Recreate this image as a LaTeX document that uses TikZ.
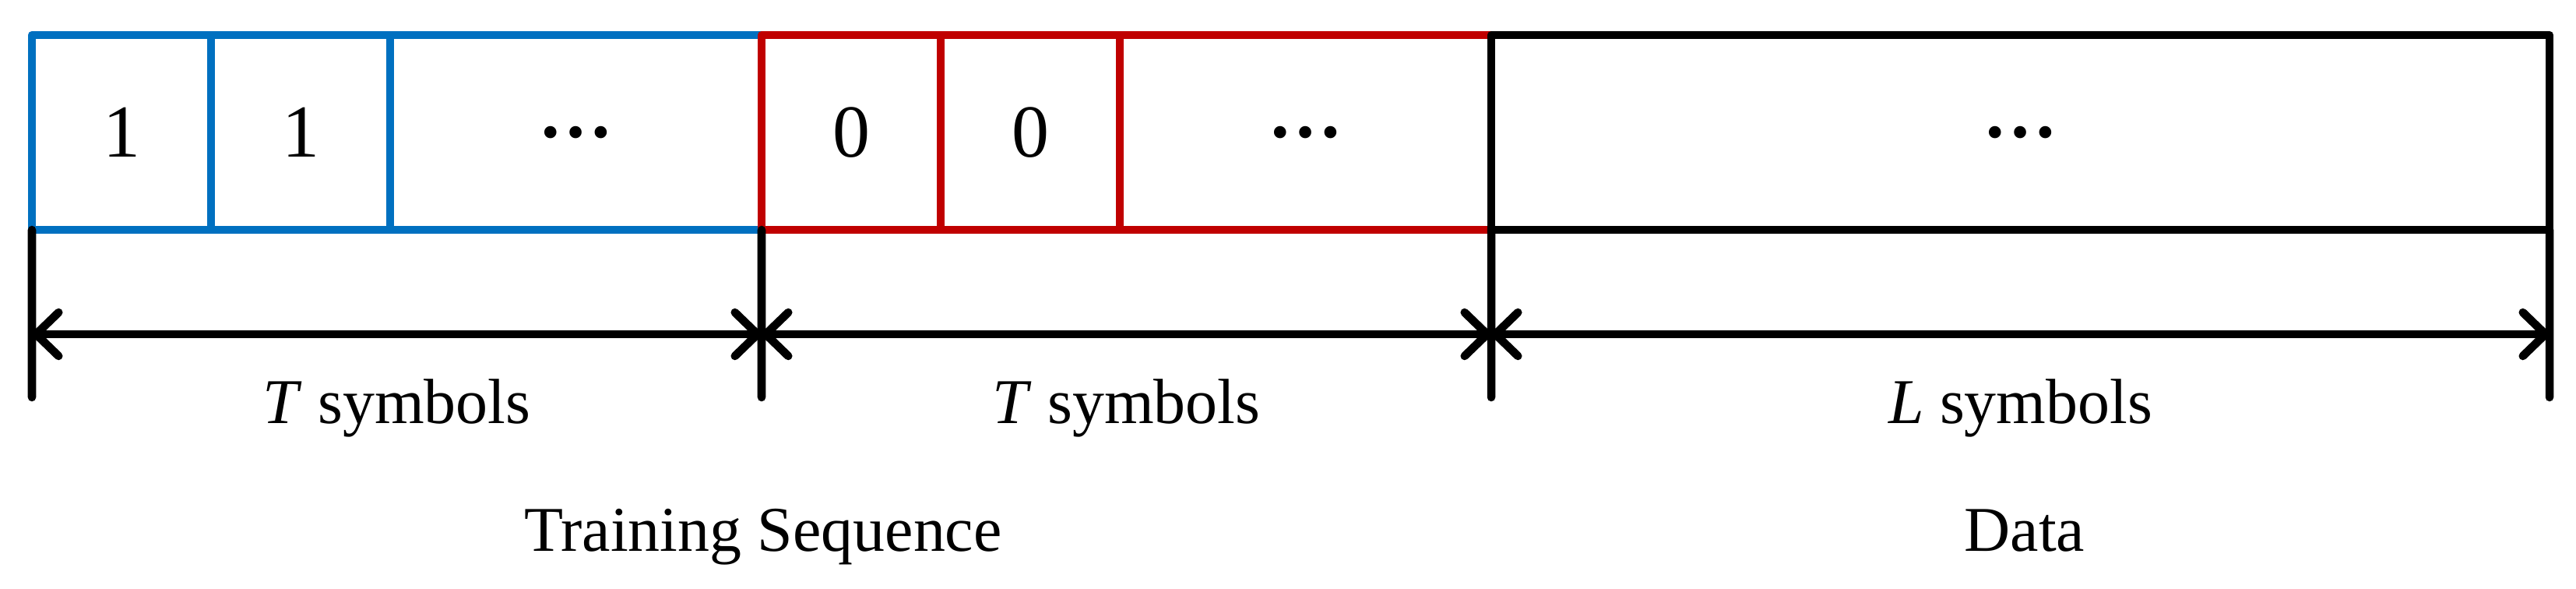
\documentclass[tikz,border=0pt]{standalone}
\usepackage{fontspec}
\setmainfont{Liberation Serif}
\usetikzlibrary{arrows.meta}
\definecolor{tsblue}{RGB}{0,112,192}
\definecolor{tsred}{RGB}{192,0,0}

\begin{document}
\begin{tikzpicture}[line width=3pt, line cap=round, line join=round,
  cell/.style={draw, rectangle, inner sep=0pt, outer sep=0pt, minimum height=2.5cm, text=black, font=\fontsize{27.3}{30}\selectfont},
  dim/.style={{Straight Barb[length=0.29cm,width=0.56cm,round]}-{Straight Barb[length=0.29cm,width=0.56cm,round]}},
  lbl/.style={anchor=base, font=\fontsize{23.3}{28}\selectfont}]
\useasboundingbox (0,0) rectangle (33.08,7.55);
\node[cell, draw=tsblue, minimum width=2.3cm] (B1) at (1.56,5.85) {1};
\node[cell, draw=tsblue, minimum width=2.3cm] (B2) at (3.86,5.85) {1};
\node[cell, draw=tsblue, minimum width=4.77cm] (B3) at (7.395,5.85) {\textbf{…}};
\node[cell, draw=tsred, minimum width=2.3cm] (R1) at (10.93,5.85) {0};
\node[cell, draw=tsred, minimum width=2.3cm] (R2) at (13.23,5.85) {0};
\node[cell, draw=tsred, minimum width=4.77cm] (R3) at (16.765,5.85) {\textbf{…}};
\node[cell, draw=black, minimum width=13.59cm] (D) at (25.945,5.85) {\textbf{…}};
\coordinate (a0) at (0.41,3.26);
\coordinate (a1) at (9.78,3.26);
\coordinate (a2) at (19.15,3.26);
\coordinate (a3) at (32.74,3.26);
\coordinate (e0) at (0.41,2.45);
\coordinate (e1) at (9.78,2.45);
\coordinate (e2) at (19.15,2.45);
\coordinate (e3) at (32.74,2.45);
\draw (B1.south west) -- (e0);
\draw (R1.south west) -- (e1);
\draw (D.south west) -- (e2);
\draw (D.south east) -- (e3);
\draw [dim] (a0) -- (a1);
\draw [dim] (a1) -- (a2);
\draw [dim] (a2) -- (a3);
\node[lbl] (TS1) at (5.095,2.12) {\textit{T} symbols};
\node[lbl] (TS2) at (14.465,2.12) {\textit{T} symbols};
\node[lbl] (LS) at (25.945,2.12) {\textit{L} symbols};
\node[lbl] (TR) at (9.80,0.48) {Training Sequence};
\node[lbl] (DA) at (26.00,0.48) {Data};
\end{tikzpicture}
\end{document}
